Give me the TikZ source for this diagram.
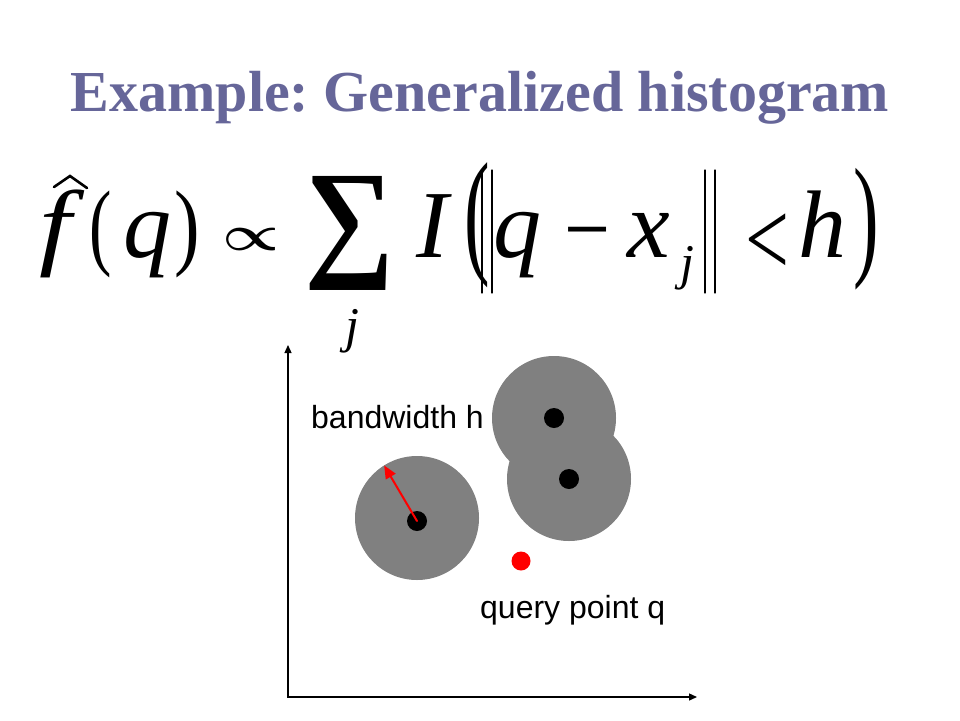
\documentclass[tikz,border=0pt]{standalone}
\usepackage{fontspec}
\setmainfont{Liberation Serif}
\newfontfamily\arialfont{Liberation Sans}
\usetikzlibrary{arrows.meta}
\definecolor{titleblue}{RGB}{102,102,153}
\frenchspacing
\tikzset{
	glyph/.style={font=\fontsize{96}{96}\selectfont\itshape, inner sep=0pt, anchor=base},
	upglyph/.style={font=\fontsize{96}{96}\selectfont, inner sep=0pt, anchor=base},
	subglyph/.style={font=\fontsize{50}{50}\selectfont\itshape, inner sep=0pt, anchor=base},
	disc/.style={circle, fill=gray, minimum size=124pt, inner sep=0pt, outer sep=0pt},
	blackdot/.style={circle, fill=black, minimum size=20pt, inner sep=0pt},
	reddot/.style={circle, fill=red, minimum size=19pt, inner sep=0pt},
	lbl/.style={font=\arialfont\fontsize{32}{32}\selectfont, inner sep=0pt, anchor=base west},
	axis/.style={line width=1.3pt, {Triangle[length=8pt,width=7pt]}-{Triangle[length=8pt,width=7pt]}}
}
\begin{document}
\begin{tikzpicture}[x=1pt,y=-1pt,line cap=round]
	\useasboundingbox (0,0) rectangle (960,720);
	\node[font=\fontsize{58}{58}\selectfont\bfseries, text=titleblue, inner sep=0pt, anchor=base] (title) at (480,111) {Example: Generalized histogram};
	\node[glyph] (fhat) at (56,257) {\scalebox{1.2}[1]{f}};
	\draw[line width=2.6pt, line join=miter] (54,187) -- (70,176) -- (87,188);
	\node[upglyph] (lpar) at (101,257) {\scalebox{0.7}[1]{(}};
	\node[glyph] (q1) at (147,257) {q};
	\node[upglyph] (rpar) at (187,257) {\scalebox{0.8}[1]{)}};
	\node[inner sep=0pt] (prop) at (251,239) {\resizebox*{57pt}{22pt}{\boldmath$\propto$}};
	\node[inner sep=0pt] (sum) at (350,233) {\resizebox*{90pt}{114pt}{\bfseries ∑}};
	\node[subglyph] (j1) at (352,342) {j};
	\node[glyph] (ind) at (432,257) {I};
	\node[upglyph] (blpar) at (477,258.5) {\scalebox{0.8}[1.44]{(}};
	\draw[line width=1.3pt] (482,170) -- (482,293) (492,170) -- (492,293);
	\node[glyph] (q2) at (517,257) {q};
	\node[upglyph] (minus) at (588,261) {\scalebox{0.85}[1]{−}};
	\node[glyph] (xj) at (649,257) {x};
	\node[subglyph] (j2) at (687,279) {j};
	\draw[line width=1.3pt] (705,170) -- (705,293) (715,170) -- (715,293);
	\node[upglyph, font=\fontsize{78}{78}\selectfont] (less) at (767,275) {\scalebox{1}[1.38]{<}};
	\node[glyph] (h) at (822,257) {h};
	\node[upglyph] (brpar) at (866,261) {\scalebox{0.8}[1.40]{)}};
	\coordinate (origin) at (288,697);
	\coordinate (ytop) at (288,345);
	\coordinate (xend) at (697,697);
	\draw[axis] (ytop) -- (origin) -- (xend);
	\node[disc] (c1) at (417,518) {};
	\node[disc] (c2) at (554,418) {};
	\node[disc] (c3) at (569,479) {};
	\node[blackdot] (d1) at (417,521) {};
	\node[blackdot] (d2) at (554,418) {};
	\node[blackdot] (d3) at (569,479) {};
	\node[reddot] (query) at (521,561) {};
	\draw[red, line width=2pt, -{Triangle[length=13pt,width=11pt]}] (d1.center) -- (c1.122);
	\node[lbl] (bw) at (311,428) {bandwidth h};
	\node[lbl] (qp) at (480,618) {query point q};
\end{tikzpicture}
\end{document}
